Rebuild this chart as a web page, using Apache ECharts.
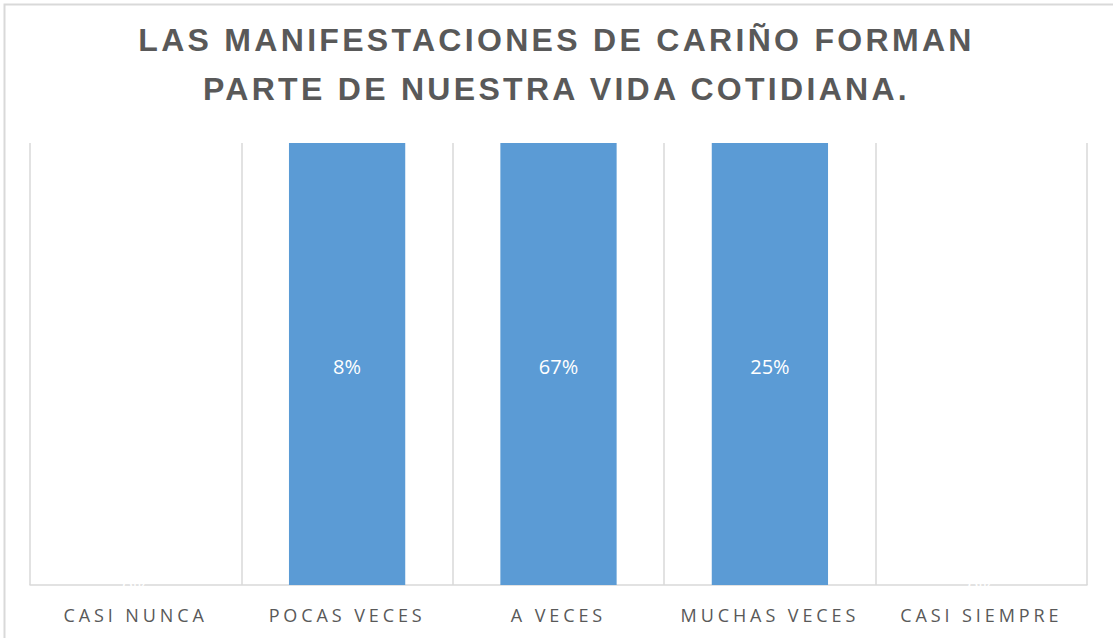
<!DOCTYPE html>
<html>
<head>
<meta charset="utf-8">
<script src="https://cdn.jsdelivr.net/npm/echarts@6/dist/echarts.min.js"></script>
<style>
  html, body { margin: 0; padding: 0; background: #fff; }
  #main { width: 1113px; height: 638px; }
  /* Excel-style letter spacing on title and axis labels */
  #main text[style*="32px"] { letter-spacing: 3.3px; }
  #main text[style*="18px"] { letter-spacing: 3.9px; }
</style>
</head>
<body>
<div id="main"></div>
<script>
// datos del grafico
var categorias = ['CASI NUNCA', 'POCAS VECES', 'A VECES', 'MUCHAS VECES', 'CASI SIEMPRE'];
var valores = [0, 0.08, 0.67, 0.25, 0];
var titulo = 'LAS MANIFESTACIONES DE CARIÑO FORMAN\nPARTE DE NUESTRA VIDA COTIDIANA.';

var myChart = echarts.init(document.getElementById('main'), null, {renderer: 'svg'});
var option = {
	animation: false,
	backgroundColor: '#fff',
	title: {
		text: titulo,
		left: 'center',
		top: 15,
		padding: 0,
		textStyle: {
			fontFamily: 'Liberation Sans, Arial, sans-serif',
			fontSize: 32,
			fontWeight: 'bold',
			color: '#595959',
			lineHeight: 49
		}
	},
	graphic: [{
		type: 'rect',
		left: 2,
		top: 2,
		shape: {width: 1200, height: 700},
		style: {fill: 'none', stroke: '#d9d9d9', lineWidth: 2},
		silent: true
	}],
	grid: {
		left: 30,
		right: 26,
		top: 143,
		bottom: 53,
		containLabel: false
	},
	xAxis: {
		type: 'category',
		data: categorias,
		axisLine: {lineStyle: {color: '#d9d9d9', width: 1.5}},
		axisTick: {show: false},
		splitLine: {show: true, lineStyle: {color: '#d9d9d9', width: 1.5}},
		axisLabel: {
			margin: 21,
			fontFamily: 'Open Sans, sans-serif',
			fontSize: 18,
			color: '#595959'
		}
	},
	yAxis: {
		type: 'value',
		min: 0,
		max: 0.05,
		show: false,
		splitLine: {show: false}
	},
	series: [{
		type: 'bar',
		data: valores,
		barCategoryGap: '45%',
		clip: true,
		itemStyle: {color: '#5b9bd5'},
		label: {
			show: true,
			position: 'inside',
			offset: [0, 2],
			color: '#ffffff',
			fontFamily: 'Open Sans, sans-serif',
			fontSize: 20,
			formatter: function (p) {
				return Math.round(p.value * 100) + '%';
			}
		}
	}]
};
myChart.setOption(option);
</script>
</body>
</html>
